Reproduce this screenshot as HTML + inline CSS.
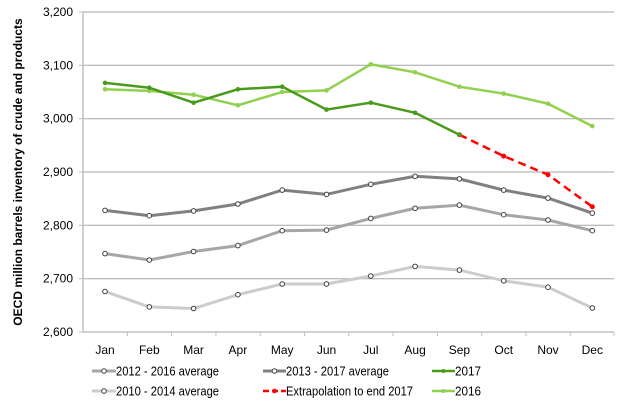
<!DOCTYPE html>
<html><head><meta charset="utf-8"><style>
body{margin:0;background:#fff;}
svg{display:block;font-family:"Liberation Sans",Arial,sans-serif;}
</style></head><body>
<svg width="623" height="406" viewBox="0 0 623 406" xmlns="http://www.w3.org/2000/svg">
<g stroke="#a6a6a6" stroke-width="1">
<line x1="83" y1="12" x2="614" y2="12"/>
<line x1="83" y1="65.3" x2="614" y2="65.3"/>
<line x1="83" y1="118.7" x2="614" y2="118.7"/>
<line x1="83" y1="172" x2="614" y2="172"/>
<line x1="83" y1="225.3" x2="614" y2="225.3"/>
<line x1="83" y1="278.7" x2="614" y2="278.7"/>
</g>
<g stroke="#c0c0c0" stroke-width="1.5">
<line x1="83" y1="332" x2="614" y2="332"/>
<line x1="83" y1="12" x2="83" y2="332"/>
</g>
<g stroke="#c0c0c0" stroke-width="1">
<line x1="79" y1="12" x2="83" y2="12"/><line x1="79" y1="65.3" x2="83" y2="65.3"/><line x1="79" y1="118.7" x2="83" y2="118.7"/><line x1="79" y1="172" x2="83" y2="172"/><line x1="79" y1="225.3" x2="83" y2="225.3"/><line x1="79" y1="278.7" x2="83" y2="278.7"/><line x1="79" y1="332" x2="83" y2="332"/>
<line x1="127.3" y1="332" x2="127.3" y2="336"/><line x1="171.6" y1="332" x2="171.6" y2="336"/><line x1="215.9" y1="332" x2="215.9" y2="336"/><line x1="260.2" y1="332" x2="260.2" y2="336"/><line x1="304.5" y1="332" x2="304.5" y2="336"/><line x1="348.8" y1="332" x2="348.8" y2="336"/><line x1="393.1" y1="332" x2="393.1" y2="336"/><line x1="437.4" y1="332" x2="437.4" y2="336"/><line x1="481.7" y1="332" x2="481.7" y2="336"/><line x1="526" y1="332" x2="526" y2="336"/><line x1="570.3" y1="332" x2="570.3" y2="336"/><line x1="614" y1="332" x2="614" y2="336"/>
</g>
<g font-size="12" fill="#000" text-anchor="end">
<text x="73" y="16">3,200</text><text x="73" y="69.3">3,100</text><text x="73" y="122.7">3,000</text><text x="73" y="176">2,900</text><text x="73" y="229.3">2,800</text><text x="73" y="282.7">2,700</text><text x="73" y="336">2,600</text>
</g>
<g font-size="12" fill="#000" text-anchor="middle">
<text x="105" y="354">Jan</text><text x="149.3" y="354">Feb</text><text x="193.6" y="354">Mar</text><text x="237.9" y="354">Apr</text><text x="282.2" y="354">May</text><text x="326.5" y="354">Jun</text><text x="370.8" y="354">Jul</text><text x="415.1" y="354">Aug</text><text x="459.4" y="354">Sep</text><text x="503.7" y="354">Oct</text><text x="548" y="354">Nov</text><text x="592.3" y="354">Dec</text>
</g>
<text transform="translate(22,172) rotate(-90)" font-size="12" font-weight="bold" text-anchor="middle">OECD million barrels inventory of crude and products</text>

<!-- 2010-2014 -->
<polyline fill="none" stroke="#cccccc" stroke-width="3" points="105,291.5 149.3,306.9 193.6,308.5 237.9,294.7 282.2,284 326.5,284 370.8,276 415.1,266.4 459.4,270.1 503.7,280.8 548,287.2 592.3,308"/>
<g fill="#fff" stroke="#404040" stroke-width="1"><circle cx="105" cy="291.5" r="2.3"/><circle cx="149.3" cy="306.9" r="2.3"/><circle cx="193.6" cy="308.5" r="2.3"/><circle cx="237.9" cy="294.7" r="2.3"/><circle cx="282.2" cy="284" r="2.3"/><circle cx="326.5" cy="284" r="2.3"/><circle cx="370.8" cy="276" r="2.3"/><circle cx="415.1" cy="266.4" r="2.3"/><circle cx="459.4" cy="270.1" r="2.3"/><circle cx="503.7" cy="280.8" r="2.3"/><circle cx="548" cy="287.2" r="2.3"/><circle cx="592.3" cy="308" r="2.3"/></g>
<!-- 2012-2016 -->
<polyline fill="none" stroke="#a6a6a6" stroke-width="3" points="105,253.6 149.3,260 193.6,251.5 237.9,245.6 282.2,230.7 326.5,230.1 370.8,218.4 415.1,208.3 459.4,205.1 503.7,214.7 548,220 592.3,230.7"/>
<g fill="#fff" stroke="#404040" stroke-width="1"><circle cx="105" cy="253.6" r="2.3"/><circle cx="149.3" cy="260" r="2.3"/><circle cx="193.6" cy="251.5" r="2.3"/><circle cx="237.9" cy="245.6" r="2.3"/><circle cx="282.2" cy="230.7" r="2.3"/><circle cx="326.5" cy="230.1" r="2.3"/><circle cx="370.8" cy="218.4" r="2.3"/><circle cx="415.1" cy="208.3" r="2.3"/><circle cx="459.4" cy="205.1" r="2.3"/><circle cx="503.7" cy="214.7" r="2.3"/><circle cx="548" cy="220" r="2.3"/><circle cx="592.3" cy="230.7" r="2.3"/></g>
<!-- 2013-2017 -->
<polyline fill="none" stroke="#808080" stroke-width="3" points="105,210.4 149.3,215.7 193.6,210.9 237.9,204 282.2,190.1 326.5,194.4 370.8,184.3 415.1,176.3 459.4,178.9 503.7,190.1 548,198.1 592.3,213.1"/>
<g fill="#fff" stroke="#404040" stroke-width="1"><circle cx="105" cy="210.4" r="2.3"/><circle cx="149.3" cy="215.7" r="2.3"/><circle cx="193.6" cy="210.9" r="2.3"/><circle cx="237.9" cy="204" r="2.3"/><circle cx="282.2" cy="190.1" r="2.3"/><circle cx="326.5" cy="194.4" r="2.3"/><circle cx="370.8" cy="184.3" r="2.3"/><circle cx="415.1" cy="176.3" r="2.3"/><circle cx="459.4" cy="178.9" r="2.3"/><circle cx="503.7" cy="190.1" r="2.3"/><circle cx="548" cy="198.1" r="2.3"/><circle cx="592.3" cy="213.1" r="2.3"/></g>
<!-- extrapolation -->
<polyline fill="none" stroke="#ff0000" stroke-width="2.5" stroke-dasharray="8,5" points="459.4,134.7 503.7,156.1 548,174.7 592.3,206.7"/>
<g fill="#ff0000"><circle cx="459.4" cy="134.7" r="2.5"/><circle cx="503.7" cy="156.1" r="2.5"/><circle cx="548" cy="174.7" r="2.5"/><circle cx="592.3" cy="206.7" r="2.5"/></g>
<!-- 2016 -->
<polyline fill="none" stroke="#92d050" stroke-width="2.5" points="105,89.3 149.3,90.9 193.6,94.7 237.9,105.3 282.2,92 326.5,90.4 370.8,64.3 415.1,72.3 459.4,86.7 503.7,93.6 548,103.7 592.3,126.1"/>
<g fill="#92d050"><circle cx="105" cy="89.3" r="2.3"/><circle cx="149.3" cy="90.9" r="2.3"/><circle cx="193.6" cy="94.7" r="2.3"/><circle cx="237.9" cy="105.3" r="2.3"/><circle cx="282.2" cy="92" r="2.3"/><circle cx="326.5" cy="90.4" r="2.3"/><circle cx="370.8" cy="64.3" r="2.3"/><circle cx="415.1" cy="72.3" r="2.3"/><circle cx="459.4" cy="86.7" r="2.3"/><circle cx="503.7" cy="93.6" r="2.3"/><circle cx="548" cy="103.7" r="2.3"/><circle cx="592.3" cy="126.1" r="2.3"/></g>
<!-- 2017 -->
<polyline fill="none" stroke="#4a9a1e" stroke-width="2.5" points="105,82.9 149.3,87.7 193.6,102.7 237.9,89.3 282.2,86.7 326.5,109.6 370.8,102.7 415.1,112.8 459.4,134.7"/>
<g fill="#4a9a1e"><circle cx="105" cy="82.9" r="2.3"/><circle cx="149.3" cy="87.7" r="2.3"/><circle cx="193.6" cy="102.7" r="2.3"/><circle cx="237.9" cy="89.3" r="2.3"/><circle cx="282.2" cy="86.7" r="2.3"/><circle cx="326.5" cy="109.6" r="2.3"/><circle cx="370.8" cy="102.7" r="2.3"/><circle cx="415.1" cy="112.8" r="2.3"/><circle cx="459.4" cy="134.7" r="2.3"/></g>

<!-- legend -->
<g font-size="12.5" fill="#000">
<line x1="92" y1="371" x2="116" y2="371" stroke="#a6a6a6" stroke-width="3"/><circle cx="104" cy="371" r="2.3" fill="#fff" stroke="#404040"/>
<text x="116" y="375.5" textLength="103" lengthAdjust="spacingAndGlyphs">2012 - 2016 average</text>
<line x1="92" y1="391" x2="116" y2="391" stroke="#cccccc" stroke-width="3"/><circle cx="104" cy="391" r="2.3" fill="#fff" stroke="#404040"/>
<text x="116" y="395.5" textLength="103" lengthAdjust="spacingAndGlyphs">2010 - 2014 average</text>
<line x1="263" y1="371" x2="286" y2="371" stroke="#808080" stroke-width="3"/><circle cx="274.5" cy="371" r="2.3" fill="#fff" stroke="#404040"/>
<text x="286" y="375.5" textLength="103" lengthAdjust="spacingAndGlyphs">2013 - 2017 average</text>
<line x1="263" y1="391" x2="286" y2="391" stroke="#ff0000" stroke-width="2.5" stroke-dasharray="6,3"/><circle cx="274.5" cy="391" r="2.3" fill="#ff0000"/>
<text x="286" y="395.5" textLength="127" lengthAdjust="spacingAndGlyphs">Extrapolation to end 2017</text>
<line x1="432" y1="371" x2="455" y2="371" stroke="#4a9a1e" stroke-width="2.5"/><circle cx="443.5" cy="371" r="2" fill="#4a9a1e"/>
<text x="455" y="375.5" textLength="26" lengthAdjust="spacingAndGlyphs">2017</text>
<line x1="432" y1="391" x2="455" y2="391" stroke="#92d050" stroke-width="2.5"/><circle cx="443.5" cy="391" r="2" fill="#92d050"/>
<text x="455" y="395.5" textLength="26" lengthAdjust="spacingAndGlyphs">2016</text>
</g>
</svg>
</body></html>
